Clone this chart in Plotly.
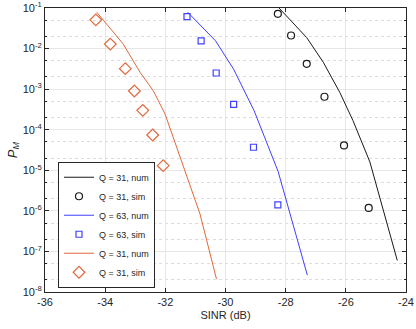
import plotly.graph_objects as go

# numerical curves (SINR dB, P_M)
num31_x = [-28.22, -27.30, -26.75, -26.20, -25.76, -25.20, -24.29]
num31_y = [1.0e-1, 1.86e-2, 4.6e-3, 8.3e-4, 1.66e-4, 1.6e-5, 6.0e-8]
num63_x = [-31.26, -30.33, -29.73, -29.05, -28.25, -27.28]
num63_y = [7.9e-2, 1.55e-2, 3.1e-3, 2.95e-4, 9.3e-6, 2.6e-8]
numB_x = [-34.28, -33.40, -32.84, -32.40, -32.01, -31.13, -30.85, -30.30]
numB_y = [7.9e-2, 1.29e-2, 2.6e-3, 9.1e-4, 2.45e-4, 3.3e-6, 8.5e-7, 2.1e-8]

# simulated points
sim31_x = [-28.26, -27.82, -27.30, -26.71, -26.06, -25.24]
sim31_y = [7.2e-2, 2.1e-2, 4.2e-3, 6.5e-4, 4.1e-5, 1.18e-6]
sim63_x = [-31.28, -30.81, -30.31, -29.73, -29.07, -28.26]
sim63_y = [6.1e-2, 1.55e-2, 2.5e-3, 4.2e-4, 3.7e-5, 1.4e-6]
simB_x = [-34.31, -33.83, -33.33, -33.03, -32.75, -32.42, -32.07]
simB_y = [5.1e-2, 1.29e-2, 3.2e-3, 9.0e-4, 3.0e-4, 7.4e-5, 1.3e-5]

x_ticks = [-36, -34, -32, -30, -28, -26, -24]
y_exps = [-8, -7, -6, -5, -4, -3, -2, -1]

BLACK = '#1a1a1a'
BLUE = '#4040ff'
ORANGE = '#e0683a'

fig = go.Figure()
fig.add_trace(go.Scatter(x=num31_x, y=num31_y, mode='lines', name='Q = 31, num',
                         line=dict(color=BLACK, width=1)))
fig.add_trace(go.Scatter(x=sim31_x, y=sim31_y, mode='markers', name='Q = 31, sim',
                         marker=dict(symbol='circle-open', size=7, color=BLACK,
                                     line=dict(width=1.2))))
fig.add_trace(go.Scatter(x=num63_x, y=num63_y, mode='lines', name='Q = 63, num',
                         line=dict(color=BLUE, width=1)))
fig.add_trace(go.Scatter(x=sim63_x, y=sim63_y, mode='markers', name='Q = 63, sim',
                         marker=dict(symbol='square-open', size=6, color=BLUE,
                                     line=dict(width=1.2))))
fig.add_trace(go.Scatter(x=numB_x, y=numB_y, mode='lines', name='Q = 31, num',
                         line=dict(color=ORANGE, width=1)))
fig.add_trace(go.Scatter(x=simB_x, y=simB_y, mode='markers', name='Q = 31, sim',
                         marker=dict(symbol='diamond-open', size=9, color=ORANGE,
                                     line=dict(width=1.2))))

axis_common = dict(showline=True, linecolor='#262626', linewidth=1, mirror='ticks',
                   ticks='inside', ticklen=4, tickcolor='#262626', automargin=False,
                   ticklabeloverflow='allow',
                   showgrid=True, gridcolor='#e6e6e6', gridwidth=1, zeroline=False,
                   tickfont=dict(size=11, color='#262626'))

fig.update_layout(
    width=416, height=329,
    margin=dict(l=45, r=10, t=8, b=37),
    paper_bgcolor='white', plot_bgcolor='white',
    font=dict(family='Liberation Sans, Arial, sans-serif', size=11, color='#262626'),
    showlegend=True,
    legend=dict(x=0.036, y=0.015, xanchor='left', yanchor='bottom',
                bgcolor='white', bordercolor='#262626', borderwidth=1,
                font=dict(size=9), tracegroupgap=0, itemwidth=30),
    xaxis=dict(range=[-36, -24], tickvals=x_ticks,
               ticktext=[str(v) for v in x_ticks],
               title=dict(text='SINR (dB)', font=dict(size=11), standoff=4),
               **axis_common),
    yaxis=dict(type='log', range=[-8, -1],
               tickvals=[10.0 ** e for e in y_exps],
               ticktext=['10<sup>%d</sup>' % e for e in y_exps],
               title=dict(text='<i>P</i><sub><i>M</i></sub>', font=dict(size=13), standoff=2),
               minor=dict(showgrid=True, gridcolor='#dddddd', griddash='dot',
                          ticks='inside', ticklen=2, tickcolor='#262626'),
               **axis_common),
)

# drop the default page margin so the figure sits at the window's corner
fig.write_html("out.html", config={'displayModeBar': False},
               post_script="document.body.style.margin='0px';")
